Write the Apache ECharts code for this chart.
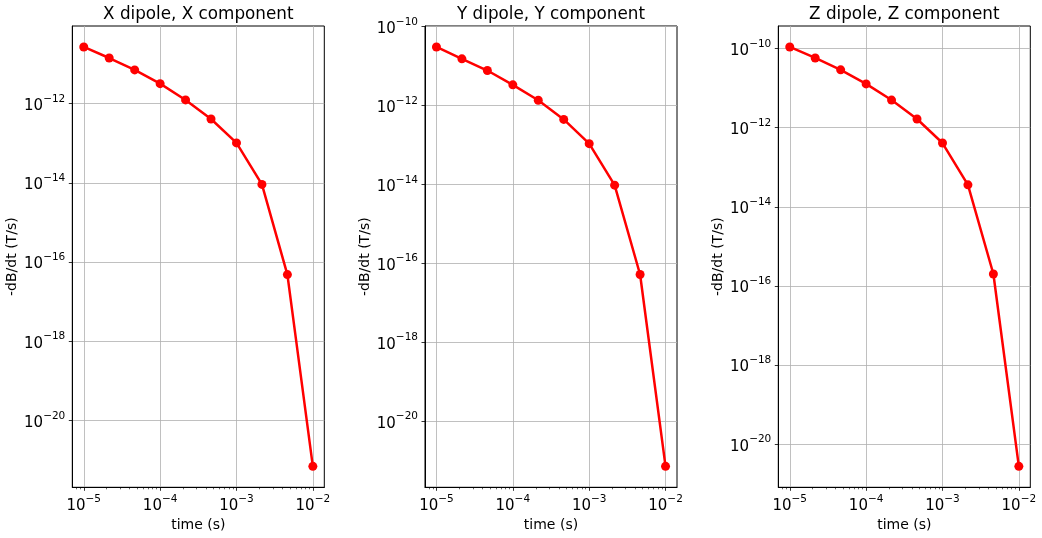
<!DOCTYPE html>
<html><head><meta charset="utf-8">
<script src="https://cdn.jsdelivr.net/npm/echarts@6/dist/echarts.min.js"></script>
<style>html,body{margin:0;padding:0;background:#fff}#c{width:1042px;height:538px}</style>
</head><body><div id="c"></div>
<script>
// ---- data ----
const times = [1e-5, 2.154e-5, 4.642e-5, 1e-4, 2.154e-4, 4.642e-4, 1e-3, 2.154e-3, 4.642e-3, 1e-2];
const xDipoleX = [2.7e-11, 1.42e-11, 7.1e-12, 3.2e-12, 1.24e-12, 4.1e-13, 1.02e-13, 9.1e-15, 4.8e-17, 6.9e-22];
const yDipoleY = [3.0e-11, 1.5e-11, 7.6e-12, 3.3e-12, 1.34e-12, 4.4e-13, 1.07e-13, 9.5e-15, 5.2e-17, 7.2e-22];
const zDipoleZ = [1.1e-10, 5.8e-11, 2.9e-11, 1.28e-11, 5.0e-12, 1.66e-12, 4.1e-13, 3.6e-14, 2.0e-16, 2.75e-21];
const titles = ['X dipole, X component', 'Y dipole, Y component', 'Z dipole, Z component'];
const xTickExps = [-5, -4, -3, -2];
const yTickExps = [-20, -18, -16, -14, -12, -10];
const xLabel = 'time (s)';
const yLabel = '-dB/dt (T/s)';

// ---- layout ----
const panels = [xDipoleX, yDipoleY, zDipoleZ];
const gridLefts = [72.3, 425, 778.3];
const gridW = 252, gridTop = 26, gridH = 461.3;
const FONT = 'DejaVu Sans';

function sup(e) { return '{b|10}{s|' + (e < 0 ? '\u2212' : '') + Math.abs(e) + '}'; }
const rich = {
  b: { fontFamily: FONT, fontSize: 15, color: '#000', lineHeight: 20, verticalAlign: 'bottom' },
  s: { fontFamily: FONT, fontSize: 10.5, color: '#000', lineHeight: 11, verticalAlign: 'top' }
};
function logRange(arr) {
  const lo = Math.min(...arr), hi = Math.max(...arr);
  const span = hi - lo;
  return [lo - 0.05 * span, hi + 0.05 * span];
}
const xr = logRange(times.map(Math.log10));

const grid = [], xAxis = [], yAxis = [], series = [], title = [];
panels.forEach((vals, i) => {
  const logs = vals.map(Math.log10);
  const yr = logRange(logs);
  grid.push({ left: gridLefts[i], top: gridTop, width: gridW, height: gridH,
    show: true, borderColor: '#000', borderWidth: 1, backgroundColor: 'transparent', containLabel: false });
  title.push({ text: titles[i], left: gridLefts[i] + gridW / 2, top: 6.5, textAlign: 'center', padding: 0,
    textStyle: { fontFamily: FONT, fontSize: 16.8, fontWeight: 'normal', color: '#000' } });
  xAxis.push({ type: 'log', logBase: 10, gridIndex: i,
    min: Math.pow(10, xr[0]), max: Math.pow(10, xr[1]),
    name: xLabel, nameLocation: 'middle', nameGap: 29,
    nameTextStyle: { fontFamily: FONT, fontSize: 14, color: '#000' },
    axisLine: { show: true, lineStyle: { color: '#000', width: 1 } },
    axisTick: { show: true, inside: false, length: 3.5, lineStyle: { color: '#000', width: 0.8 },
      customValues: xTickExps.map(e => Math.pow(10, e)) },
    minorTick: { show: true, splitNumber: 9, length: 2, lineStyle: { color: '#000', width: 0.6 } },
    splitLine: { show: true, lineStyle: { color: '#b0b0b0', width: 0.8 } },
    axisLabel: { margin: 6, rich: rich, showMinLabel: true, showMaxLabel: true,
      formatter: v => { const e = Math.log10(v), r = Math.round(e);
        return (Math.abs(e - r) < 1e-6 && xTickExps.includes(r)) ? sup(r) : ''; } }
  });
  yAxis.push({ type: 'value', gridIndex: i, min: yr[0], max: yr[1], splitNumber: 6,
    name: yLabel, nameLocation: 'middle', nameGap: 53,
    nameTextStyle: { fontFamily: FONT, fontSize: 14, color: '#000' },
    axisLine: { show: true, onZero: false, lineStyle: { color: '#000', width: 1 } },
    axisTick: { show: true, inside: false, length: 3.5, lineStyle: { color: '#000', width: 0.8 },
      customValues: yTickExps.filter(e => e >= yr[0] && e <= yr[1]) },
    splitLine: { show: true, lineStyle: { color: '#b0b0b0', width: 0.8 } },
    axisLabel: { margin: 7, rich: rich,
      formatter: v => { const r = Math.round(v);
        return (Math.abs(v - r) < 1e-6 && yTickExps.includes(r)) ? sup(r) : ''; } }
  });
  series.push({ type: 'line', xAxisIndex: i, yAxisIndex: i,
    data: times.map((t, k) => [t, logs[k]]),
    symbol: 'circle', symbolSize: 9, showSymbol: true,
    lineStyle: { color: '#ff0000', width: 2.5 },
    itemStyle: { color: '#ff0000' }, animation: false, silent: true });
});

const chart = echarts.init(document.getElementById('c'), null, { renderer: 'canvas' });
chart.setOption({ backgroundColor: '#fff', animation: false, title, grid, xAxis, yAxis, series });
</script></body></html>
